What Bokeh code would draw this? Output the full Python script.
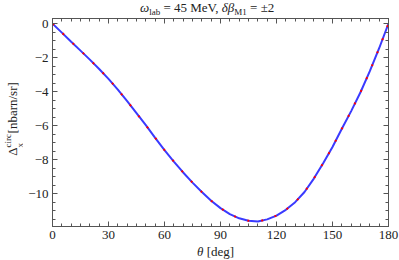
from bokeh.plotting import figure
from bokeh.models import Range1d, LinearAxis, FixedTicker, Div
from bokeh.layouts import column, row
from bokeh.embed import file_html
from bokeh.resources import INLINE

theta = [0, 5, 10, 15, 20, 25, 30, 35, 40, 45, 50, 55, 60, 65, 70, 75, 80, 85, 90,
         95, 100, 105, 110, 115, 120, 125, 130, 135, 140, 145, 150, 155, 160, 165, 170, 175, 180]
delta_plus = [0, -0.53, -1.07, -1.59, -2.12, -2.67, -3.25, -3.88, -4.56, -5.27, -5.98, -6.72, -7.44,
              -8.12, -8.76, -9.36, -9.91, -10.42, -10.86, -11.21, -11.46, -11.6, -11.64, -11.52,
              -11.3, -10.96, -10.51, -9.91, -9.12, -8.22, -7.26, -6.19, -5.15, -4.04, -2.8, -1.45, 0]
delta_minus = [0, -0.53, -1.07, -1.59, -2.12, -2.67, -3.25, -3.88, -4.56, -5.27, -5.98, -6.72, -7.44,
               -8.12, -8.76, -9.36, -9.91, -10.42, -10.86, -11.21, -11.46, -11.6, -11.64, -11.52,
               -11.3, -10.96, -10.51, -9.91, -9.12, -8.22, -7.26, -6.19, -5.15, -4.04, -2.8, -1.45, 0]
x_ticks = [0, 30, 60, 90, 120, 150, 180]
y_ticks = [-10, -8, -6, -4, -2, 0]

FONT = "Liberation Serif"
AX = "#555555"
TXT = "#222222"

p = figure(width=377, height=227, output_backend="svg", toolbar_location=None,
           x_range=Range1d(0, 180), y_range=Range1d(-11.94, 0.3),
           x_axis_location=None, y_axis_location=None,
           min_border_left=30, min_border_right=11, min_border_top=1, min_border_bottom=18)
p.grid.visible = False
p.outline_line_color = AX
p.background_fill_color = "white"
p.border_fill_color = "white"

def style(ax, labels, ticks, minor):
    ax.ticker = FixedTicker(ticks=ticks, minor_ticks=minor)
    ax.axis_line_color = AX
    ax.major_tick_line_color = AX
    ax.minor_tick_line_color = AX
    ax.major_tick_in = 5
    ax.major_tick_out = 0
    ax.minor_tick_in = 3
    ax.minor_tick_out = 0
    ax.major_label_text_font = FONT
    ax.major_label_text_font_size = "13px"
    ax.major_label_text_color = TXT
    ax.major_label_standoff = 4
    if not labels:
        ax.major_label_text_color = None
        ax.major_label_standoff = 0

xminor = list(range(0, 181, 5))
yminor = [v / 2 for v in range(-24, 1)]

bx = LinearAxis(); style(bx, True, x_ticks, xminor)
tx = LinearAxis(); style(tx, False, x_ticks, xminor)
ly = LinearAxis(); style(ly, True, y_ticks, yminor)
ry = LinearAxis(); style(ry, False, y_ticks, yminor)
ly.major_label_overrides = {t: ("\u2212" + str(-t)) if t < 0 else str(t) for t in y_ticks}
p.add_layout(bx, "below")
p.add_layout(tx, "above")
p.add_layout(ly, "left")
p.add_layout(ry, "right")

p.line(theta, delta_plus, line_color="#3a3aff", line_width=2)
p.line(theta, delta_minus, line_color="#ff0000", line_width=2, line_dash="2 12")

BASE = "font-family:'Liberation Serif',serif;font-size:13px;color:%s;white-space:nowrap;" % TXT
SUB = "font-size:9px;vertical-align:-3px;"

title = Div(width=399, height=17, margin=0,
            text=("<div style=\"%sline-height:16px;padding-left:140px;\">"
                  "<i>\u03c9</i><span style=\"%s\">lab</span> = 45 MeV, "
                  "<i>\u03b4\u03b2</i><span style=\"%s\">M1</span> = \u00b12</div>") % (BASE, SUB, SUB))

ylab = Div(width=22, height=227, margin=0,
           text=("<div style=\"position:relative;width:22px;height:227px;\">"
                 "<div style=\"%sposition:absolute;left:13px;top:102px;line-height:14px;"
                 "transform:translate(-50%%,-50%%) rotate(-90deg);\">"
                 "\u0394<span style=\"display:inline-block;position:relative;width:11px;height:10px;\">"
                 "<span style=\"position:absolute;left:0;top:-6px;font-size:9px;\">circ</span>"
                 "<span style=\"position:absolute;left:0;top:6px;font-size:9px;\">x</span></span>"
                 "<span style=\"display:inline-block;width:3px;\"></span>"
                 "[nbarn/sr]</div></div>") % BASE)

xlab = Div(width=399, height=16, margin=0,
           text=("<div style=\"%sline-height:12px;padding-left:197px;\">"
                 "<i>\u03b8</i> [deg]</div>") % BASE)

layout = column(title, row(ylab, p, spacing=0), xlab, spacing=0)

open("out.html", "w").write(file_html(layout, INLINE))
